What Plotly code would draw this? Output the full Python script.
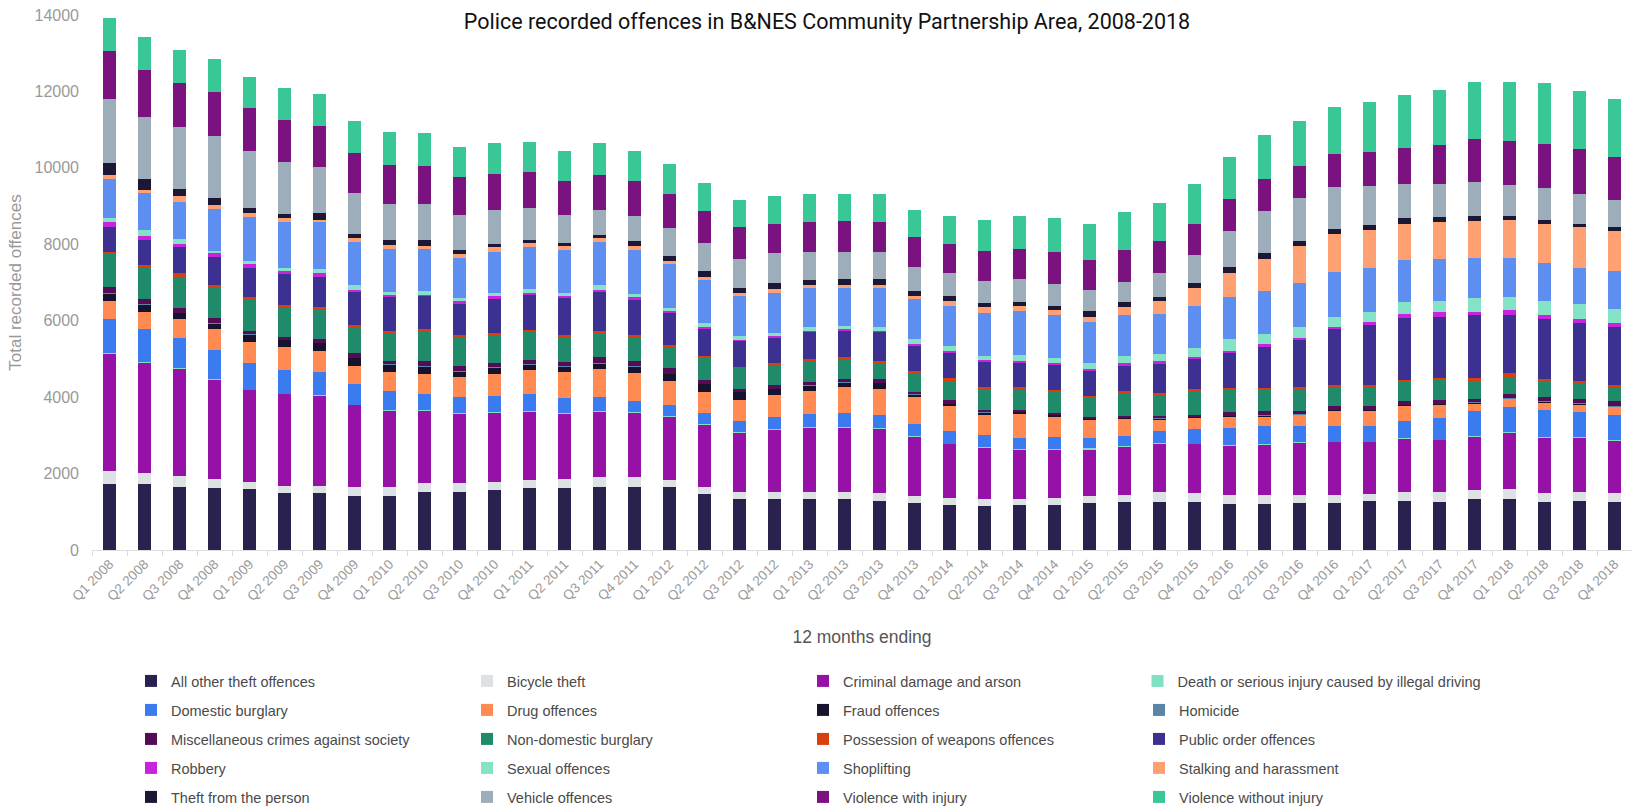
import plotly.graph_objects as go

quarters = [
    "Q1 2008", "Q2 2008", "Q3 2008", "Q4 2008", "Q1 2009", "Q2 2009", "Q3 2009", "Q4 2009",
    "Q1 2010", "Q2 2010", "Q3 2010", "Q4 2010", "Q1 2011", "Q2 2011", "Q3 2011", "Q4 2011",
    "Q1 2012", "Q2 2012", "Q3 2012", "Q4 2012", "Q1 2013", "Q2 2013", "Q3 2013", "Q4 2013",
    "Q1 2014", "Q2 2014", "Q3 2014", "Q4 2014", "Q1 2015", "Q2 2015", "Q3 2015", "Q4 2015",
    "Q1 2016", "Q2 2016", "Q3 2016", "Q4 2016", "Q1 2017", "Q2 2017", "Q3 2017", "Q4 2017",
    "Q1 2018", "Q2 2018", "Q3 2018", "Q4 2018",
]

all_other_theft = [1730, 1730, 1660, 1620, 1590, 1500, 1500, 1420, 1420, 1520, 1520, 1560, 1610, 1610, 1660, 1660,
                   1640, 1470, 1340, 1340, 1340, 1340, 1290, 1230, 1170, 1140, 1170, 1170, 1230, 1260, 1260, 1260,
                   1210, 1210, 1240, 1240, 1280, 1290, 1260, 1340, 1340, 1260, 1290, 1260]
bicycle_theft = [330, 280, 280, 250, 190, 180, 180, 240, 240, 240, 240, 220, 230, 240, 240, 240,
                 180, 170, 170, 170, 170, 170, 210, 190, 200, 190, 160, 200, 190, 190, 250, 240,
                 240, 220, 190, 210, 190, 220, 250, 220, 250, 220, 220, 220]
criminal_damage = [3080, 2900, 2810, 2590, 2410, 2410, 2360, 2140, 2000, 1900, 1810, 1820, 1790, 1720, 1730, 1700,
                   1680, 1650, 1570, 1640, 1700, 1700, 1680, 1550, 1410, 1350, 1310, 1270, 1220, 1260, 1280, 1280,
                   1290, 1330, 1390, 1380, 1360, 1410, 1370, 1410, 1480, 1460, 1430, 1390]
death_driving = [4, 5, 3, 4, 5, 3, 4, 5, 4, 3, 5, 4, 3, 4, 5, 4,
                 3, 4, 5, 4, 4, 3, 5, 4, 6, 5, 4, 6, 20, 8, 6, 5,
                 7, 6, 5, 6, 5, 7, 6, 8, 7, 6, 5, 7]
domestic_burglary = [890, 870, 790, 770, 690, 630, 610, 530, 500, 430, 430, 420, 440, 400, 370, 300,
                     300, 280, 280, 330, 340, 360, 350, 330, 320, 330, 300, 300, 260, 260, 310, 370,
                     440, 480, 420, 410, 410, 440, 560, 650, 670, 730, 660, 660]
drug_offences = [490, 450, 490, 560, 560, 590, 560, 480, 490, 520, 510, 590, 650, 680, 720, 730,
                 620, 560, 570, 560, 610, 700, 690, 720, 670, 540, 630, 560, 490, 470, 310, 310,
                 300, 260, 290, 400, 400, 410, 360, 210, 210, 190, 210, 210]
fraud_offences = [190, 200, 170, 140, 200, 190, 210, 220, 210, 200, 160, 160, 140, 160, 160, 180,
                  190, 220, 200, 180, 140, 120, 150, 50, 50, 50, 40, 30, 30, 30, 30, 20,
                  20, 20, 20, 20, 20, 20, 20, 20, 20, 20, 20, 20]
homicide = [2, 3, 2, 2, 1, 2, 2, 1, 2, 2, 1, 2, 2, 1, 2, 2,
            1, 2, 1, 2, 2, 1, 2, 2, 1, 2, 2, 1, 2, 2, 2, 1,
            2, 2, 1, 2, 2, 2, 1, 2, 2, 1, 2, 2]
misc_crimes = [160, 130, 140, 140, 90, 80, 90, 110, 90, 120, 140, 110, 120, 100, 170, 120,
               140, 90, 90, 80, 90, 80, 100, 60, 110, 60, 60, 40, 40, 30, 60, 50,
               100, 110, 80, 110, 110, 110, 110, 100, 110, 120, 120, 120]
non_domestic_burglary = [870, 840, 810, 820, 810, 780, 770, 700, 730, 820, 750, 760, 720, 650, 630, 630,
                         580, 580, 550, 560, 560, 530, 440, 510, 480, 550, 550, 570, 520, 610, 570, 650,
                         610, 580, 590, 510, 510, 510, 510, 470, 450, 390, 420, 390]
weapons = [50, 60, 90, 50, 80, 40, 60, 50, 50, 40, 50, 40, 50, 50, 40, 50,
           30, 50, 20, 30, 30, 50, 20, 50, 80, 40, 50, 40, 40, 30, 40, 30,
           20, 20, 30, 40, 40, 30, 60, 80, 80, 80, 50, 50]
public_order = [650, 650, 680, 720, 760, 840, 810, 860, 890, 860, 840, 890, 930, 980, 1030, 950,
                840, 720, 680, 670, 720, 700, 770, 660, 670, 680, 620, 660, 650, 670, 770, 790,
                930, 1100, 1250, 1460, 1570, 1630, 1600, 1640, 1530, 1580, 1510, 1500]
robbery = [130, 110, 90, 100, 100, 50, 90, 50, 40, 30, 50, 70, 50, 50, 40, 50,
           40, 50, 30, 30, 30, 30, 30, 40, 30, 40, 40, 40, 50, 70, 50, 50,
           50, 40, 40, 40, 70, 100, 130, 90, 120, 90, 120, 110]
sexual_offences = [120, 140, 120, 60, 70, 90, 100, 120, 90, 100, 90, 70, 90, 90, 130, 90,
                   100, 90, 90, 90, 90, 90, 110, 120, 140, 100, 160, 140, 140, 190, 180, 230,
                   300, 280, 280, 280, 270, 300, 280, 360, 360, 370, 380, 380]
shoplifting = [1000, 970, 980, 1110, 1160, 1200, 1240, 1140, 1130, 1100, 1050, 1090, 1110, 1120, 1140, 1150,
               1140, 1130, 1050, 1030, 1020, 970, 1000, 1050, 1050, 1130, 1170, 1120, 1080, 1070, 1060, 1090,
               1100, 1110, 1170, 1160, 1150, 1120, 1110, 1030, 1020, 990, 950, 980]
stalking_harassment = [120, 90, 140, 90, 100, 90, 50, 90, 90, 80, 100, 120, 90, 90, 90, 90,
                       90, 90, 90, 110, 90, 90, 90, 90, 140, 140, 120, 140, 140, 220, 330, 470,
                       630, 860, 950, 990, 1000, 940, 960, 980, 990, 1030, 1060, 1050]
theft_from_person = [300, 270, 190, 190, 130, 130, 170, 120, 140, 140, 110, 90, 90, 100, 90, 130,
                     110, 140, 110, 160, 130, 150, 150, 130, 130, 110, 100, 90, 140, 120, 120, 140,
                     160, 140, 130, 130, 120, 140, 130, 140, 90, 100, 90, 100]
vehicle_offences = [1680, 1640, 1620, 1630, 1500, 1340, 1220, 1060, 930, 940, 920, 890, 840, 730, 660, 670,
                    730, 750, 780, 780, 740, 720, 720, 630, 590, 580, 600, 590, 550, 530, 620, 730,
                    940, 1100, 1140, 1110, 1010, 890, 850, 890, 830, 830, 790, 720]
violence_with_injury = [1250, 1210, 1160, 1150, 1130, 1120, 1080, 1040, 1030, 1010, 980, 940, 930, 870, 910, 910,
                        910, 820, 820, 770, 770, 800, 770, 770, 770, 790, 800, 830, 800, 840, 830, 820,
                        840, 830, 840, 870, 890, 950, 1020, 1120, 1150, 1150, 1170, 1120]
violence_without_injury = [870, 870, 850, 860, 810, 820, 820, 860, 860, 860, 790, 800, 790, 800, 830, 790,
                           790, 740, 720, 720, 730, 700, 730, 720, 730, 810, 860, 880, 940, 980, 1000, 1030,
                           1100, 1150, 1180, 1230, 1310, 1380, 1450, 1490, 1540, 1600, 1520, 1510]

series = [
    ("All other theft offences", all_other_theft, "#29224f"),
    ("Bicycle theft", bicycle_theft, "#dce1e4"),
    ("Criminal damage and arson", criminal_damage, "#9612a6"),
    ("Death or serious injury caused by illegal driving", death_driving, "#7fe0c4"),
    ("Domestic burglary", domestic_burglary, "#3a7bef"),
    ("Drug offences", drug_offences, "#ff8a52"),
    ("Fraud offences", fraud_offences, "#17132e"),
    ("Homicide", homicide, "#5a84a8"),
    ("Miscellaneous crimes against society", misc_crimes, "#540c56"),
    ("Non-domestic burglary", non_domestic_burglary, "#1f8b6b"),
    ("Possession of weapons offences", weapons, "#d8410f"),
    ("Public order offences", public_order, "#3c3190"),
    ("Robbery", robbery, "#c923de"),
    ("Sexual offences", sexual_offences, "#84e2c6"),
    ("Shoplifting", shoplifting, "#5e8ff0"),
    ("Stalking and harassment", stalking_harassment, "#ffa073"),
    ("Theft from the person", theft_from_person, "#1b1735"),
    ("Vehicle offences", vehicle_offences, "#9eadba"),
    ("Violence with injury", violence_with_injury, "#7a127f"),
    ("Violence without injury", violence_without_injury, "#39c796"),
]

for name, vals, _ in series:
    if len(vals) != len(quarters):
        raise ValueError(f"{name}: {len(vals)} values")

LONG_ITEM = 3  # long legend label placed in its own legend so it is not clipped

fig = go.Figure()
for i, (name, vals, color) in enumerate(series):
    row = i // 4
    if i == LONG_ITEM:
        leg = "legend6"
    else:
        leg = "legend" if row == 0 else f"legend{row + 1}"
    fig.add_trace(go.Bar(
        x=quarters, y=vals, name=name,
        marker=dict(color=color, line=dict(width=0)),
        legend=leg,
    ))

# plot area: x 92..1632, y 15..550 (px)
def px_x(xpx):
    return (xpx - 92) / 1540.0

def py(ypx):
    return (550 - ypx) / 535.0

LEG_X0 = 131
COL_W = 335.5
legend_rows_px = [681, 710, 739, 768, 797]
legend_font = dict(family="Liberation Sans, Arial, sans-serif", size=14.5, color="#4a4a4a")
legend_layout = {}
for k, ypx in enumerate(legend_rows_px):
    key = "legend" if k == 0 else f"legend{k + 1}"
    legend_layout[key] = dict(
        orientation="h", x=px_x(LEG_X0), xanchor="left",
        y=py(ypx), yanchor="middle",
        entrywidth=291, entrywidthmode="pixels",
        font=legend_font, bgcolor="rgba(0,0,0,0)", borderwidth=0,
        traceorder="normal",
    )
legend_layout["legend6"] = dict(
    orientation="h", x=px_x(LEG_X0 + 3 * COL_W), xanchor="left",
    y=py(legend_rows_px[0]), yanchor="middle",
    font=legend_font, bgcolor="rgba(0,0,0,0)", borderwidth=0,
)

fig.update_layout(
    width=1632, height=806,
    margin=dict(l=92, r=0, t=15, b=256, autoexpand=False),
    barmode="stack", bargap=0.61,
    paper_bgcolor="white", plot_bgcolor="white",
    font=dict(family="Liberation Sans, Arial, sans-serif", color="#777"),
    title=dict(
        text="Police recorded offences in B&NES Community Partnership Area, 2008-2018",
        xref="container", x=827 / 1632, xanchor="center",
        yref="container", y=1 - 21 / 806, yanchor="middle",
        font=dict(family="Roboto, sans-serif", size=21.5, color="#111"),
    ),
    xaxis=dict(
        type="category", tickangle=-45,
        tickfont=dict(size=13.5, color="#999"),
        ticks="outside", tickson="boundaries", ticklen=5, tickcolor="#dddddd",
        showline=True, linecolor="#dddddd", linewidth=1, showgrid=False,
        title=dict(text="12 months ending", font=dict(size=17.5, color="#555"), standoff=27),
        automargin=False,
    ),
    yaxis=dict(
        range=[0, 14000], tickvals=[0, 2000, 4000, 6000, 8000, 10000, 12000, 14000],
        tickformat="d",
        ticks="", showgrid=False, zeroline=False, showline=False,
        tickfont=dict(size=16, color="#999"), ticklabelstandoff=12,
        title=dict(text="Total recorded offences", font=dict(size=17, color="#999"), standoff=8),
        automargin=False,
    ),
    showlegend=True,
    **legend_layout,
)

fig.write_html("out.html", config={"displayModeBar": False},
               post_script="document.body.style.margin='0';")
